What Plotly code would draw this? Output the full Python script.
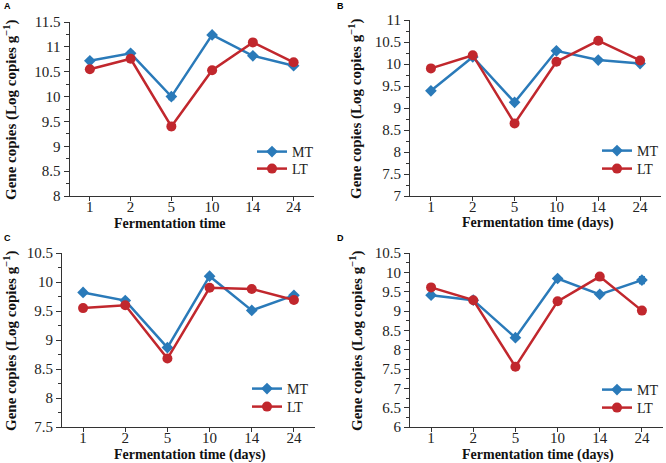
import plotly.graph_objects as go

# ---------------- data ----------------
days = ["1", "2", "5", "10", "14", "24"]

a_mt = [10.72, 10.87, 10.00, 11.24, 10.82, 10.62]
a_lt = [10.55, 10.76, 9.40, 10.53, 11.09, 10.69]
a_mt_err = [0.03, 0.04, 0.06, 0.03, 0.03, 0.03]
a_lt_err = [0.03, 0.03, 0.07, 0.03, 0.03, 0.03]

b_mt = [9.39, 10.16, 9.13, 10.30, 10.09, 10.01]
b_lt = [9.90, 10.20, 8.65, 10.05, 10.53, 10.08]
b_mt_err = [0.03, 0.03, 0.04, 0.03, 0.03, 0.03]
b_lt_err = [0.03, 0.03, 0.03, 0.03, 0.03, 0.03]

c_mt = [9.82, 9.68, 8.87, 10.10, 9.51, 9.77]
c_lt = [9.55, 9.60, 8.68, 9.90, 9.88, 9.69]
c_mt_err = [0.02, 0.02, 0.03, 0.02, 0.02, 0.03]
c_lt_err = [0.02, 0.02, 0.02, 0.02, 0.02, 0.02]

d_mt = [9.41, 9.28, 8.31, 9.84, 9.43, 9.80]
d_lt = [9.61, 9.28, 7.56, 9.25, 9.89, 9.01]
d_mt_err = [0.03, 0.03, 0.04, 0.03, 0.03, 0.09]
d_lt_err = [0.03, 0.03, 0.03, 0.03, 0.03, 0.03]

y_ranges = [(8, 11.5), (7, 11), (7.5, 10.5), (6, 10.5)]
x_titles = ["Fermentation time", "Fermentation time (days)",
            "Fermentation time (days)", "Fermentation time (days)"]
panel_letters = ["A", "B", "C", "D"]
series_names = ["MT", "LT"]

# ---------------- style ----------------
W, H = 666, 463
BLUE = "#2a7ab9"
RED = "#c1272d"
SERIF = "Liberation Serif"

# panel geometry in pixels: (left, right, top, bottom)
boxes = [(69.5, 314, 22, 196), (410, 661, 20, 196),
         (62, 315, 253, 427), (410, 663, 253, 427)]
xtitle_pos = [(170, 223), (538, 223), (190, 455), (538, 455)]
ytitle_x = [10, 356, 10, 356]
# legend left x, top y for MT entry and LT entry
legend_x = [252, 597, 247, 597]
legend_tops = [(136, 153), (135, 153), (373, 391), (374, 392)]

data = [(a_mt, a_lt, a_mt_err, a_lt_err), (b_mt, b_lt, b_mt_err, b_lt_err),
        (c_mt, c_lt, c_mt_err, c_lt_err), (d_mt, d_lt, d_mt_err, d_lt_err)]

fig = go.Figure()
layout = {}
annotations = []
xs = list(range(len(days)))
leg_count = 0

for i in range(4):
    n = "" if i == 0 else str(i + 1)
    xa, ya = "x" + n, "y" + n
    mt, lt, mte, lte = data[i]
    specs = [(mt, mte, series_names[0], BLUE, "diamond", 9),
             (lt, lte, series_names[1], RED, "circle", 10)]
    for j, (vals, errs, name, col, sym, sz) in enumerate(specs):
        leg_count += 1
        leg = "legend" if leg_count == 1 else "legend" + str(leg_count)
        fig.add_trace(go.Scatter(
            x=xs, y=vals, name=name, xaxis=xa, yaxis=ya, legend=leg,
            showlegend=True,
            mode="lines+markers", line=dict(color=col, width=2.5),
            marker=dict(symbol=sym, size=sz, color=col),
            error_y=dict(type="data", array=errs, color=col, thickness=1.2, width=3)))
        layout[leg] = dict(x=legend_x[i] / W, y=1 - legend_tops[i][j] / H,
                           xanchor="left", yanchor="top",
                           bgcolor="rgba(0,0,0,0)",
                           font=dict(family=SERIF, size=14, color="#222"),
                           itemwidth=30)

    l, r, t, b = boxes[i]
    lo, hi = y_ranges[i]
    nt = int(round((hi - lo) / 0.5))
    tv = [lo + 0.5 * k for k in range(nt + 1)]
    tt = [("%g" % v) for v in tv]
    layout["xaxis" + n] = dict(
        domain=[l / W, r / W], anchor=ya, range=[-0.5, 5.5], automargin=False,
        tickmode="array", tickvals=xs, ticktext=days,
        ticks="outside", ticklen=4, tickcolor="#333", showline=True,
        linecolor="#333", linewidth=1, showgrid=False, zeroline=False,
        ticklabelstandoff=-7,
        tickfont=dict(family=SERIF, size=15, color="#222"))
    layout["yaxis" + n] = dict(
        domain=[1 - b / H, 1 - t / H], anchor=xa, range=[lo, hi], automargin=False,
        tickmode="array", tickvals=tv, ticktext=tt,
        ticks="outside", ticklen=5, tickcolor="#333", showline=True,
        linecolor="#333", linewidth=1, showgrid=False, zeroline=False,
        minor=dict(ticks="outside", ticklen=3, tickcolor="#333",
                   tickmode="array", tickvals=[lo + 0.25 + 0.5 * k for k in range(nt)]),
        tickfont=dict(family=SERIF, size=15, color="#222"))

    # axis titles
    tx, ty = xtitle_pos[i]
    annotations.append(dict(text="<b>%s</b>" % x_titles[i], x=tx / W, y=1 - ty / H,
                            xref="paper", yref="paper", showarrow=False,
                            xanchor="center", yanchor="middle",
                            font=dict(family=SERIF, size=14, color="#111")))
    annotations.append(dict(text="<b>Gene copies (Log copies g<sup>−1</sup>)</b>",
                            x=ytitle_x[i] / W, y=1 - ((t + b) / 2 + 1) / H,
                            xref="paper", yref="paper", showarrow=False, textangle=-90,
                            xanchor="center", yanchor="middle",
                            font=dict(family=SERIF, size=15, color="#111")))
    # panel letter
    px = 2 if i % 2 == 0 else 335
    py = 6 if i < 2 else 238
    annotations.append(dict(text="<b>%s</b>" % panel_letters[i], x=px / W, y=1 - py / H,
                            xref="paper", yref="paper", showarrow=False,
                            xanchor="left", yanchor="middle",
                            font=dict(family="Liberation Sans", size=9, color="#000")))

fig.update_layout(
    width=W, height=H, margin=dict(l=0, r=0, t=0, b=0, pad=0, autoexpand=False),
    paper_bgcolor="white", plot_bgcolor="white", showlegend=True,
    annotations=annotations, **layout)

fig.write_html("out.html", config={"displayModeBar": False},
               post_script="document.body.style.margin='0';document.body.style.overflow='hidden';")
